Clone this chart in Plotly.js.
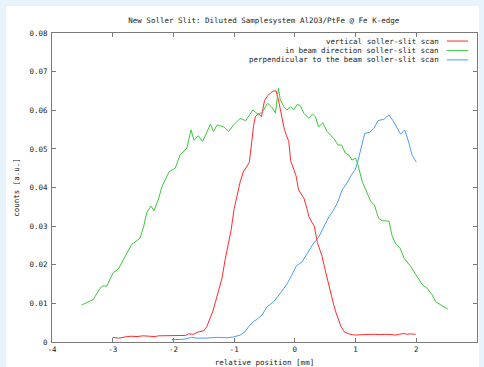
<!DOCTYPE html>
<html>
<head>
<meta charset="utf-8">
<script src="https://cdn.plot.ly/plotly-3.0.1.min.js"></script>
<style>
html,body{margin:0;padding:0;background:#e7f4fc;width:484px;height:367px;overflow:hidden;}
#chart{position:absolute;left:6px;top:6px;width:473px;height:380px;}
</style>
</head>
<body>
<div id="chart"></div>
<script>
const seriesNames = ["vertical soller-slit scan", "in beam direction soller-slit scan", "perpendicular to the beam soller-slit scan"];
const seriesColors = ["#ff2a2a", "#3cc83c", "#4a9cff"];

const redX = [-3.00,-2.90,-2.80,-2.70,-2.60,-2.50,-2.40,-2.30,-2.25,-2.10,-2.00,-1.90,-1.80,-1.75,-1.67,-1.59,-1.50,-1.45,-1.40,-1.35,-1.30,-1.25,-1.20,-1.15,-1.10,-1.05,-1.00,-0.95,-0.90,-0.85,-0.80,-0.75,-0.71,-0.68,-0.65,-0.60,-0.55,-0.50,-0.45,-0.40,-0.35,-0.31,-0.27,-0.22,-0.18,-0.14,-0.10,-0.07,-0.02,0.02,0.06,0.10,0.15,0.20,0.23,0.28,0.32,0.37,0.41,0.45,0.50,0.53,0.56,0.60,0.64,0.68,0.72,0.76,0.81,0.85,0.89,0.95,1.00,1.10,1.20,1.30,1.40,1.50,1.60,1.66,1.72,1.80,1.85,1.90,1.99];
const redY = [0.0012,0.0010,0.0013,0.0015,0.0014,0.0016,0.0015,0.0014,0.0016,0.0016,0.0016,0.0017,0.0017,0.0021,0.0020,0.0026,0.0029,0.0040,0.0058,0.0080,0.0108,0.0140,0.0165,0.0212,0.0250,0.0290,0.0345,0.0380,0.0415,0.0440,0.0452,0.0465,0.0519,0.0560,0.0583,0.0592,0.0583,0.0625,0.0637,0.0645,0.0650,0.0650,0.0627,0.0585,0.0555,0.0535,0.0519,0.0470,0.0445,0.0430,0.0394,0.0385,0.0372,0.0345,0.0325,0.0310,0.0300,0.0258,0.0240,0.0221,0.0186,0.0165,0.0143,0.0120,0.0096,0.0075,0.0057,0.0040,0.0027,0.0023,0.0021,0.0019,0.0018,0.0019,0.0020,0.0020,0.0019,0.0020,0.0019,0.0018,0.0020,0.0022,0.0020,0.0021,0.0020];

const greenX = [-3.51,-3.32,-3.21,-3.16,-3.10,-2.99,-2.91,-2.80,-2.69,-2.55,-2.49,-2.44,-2.37,-2.32,-2.25,-2.19,-2.07,-1.97,-1.89,-1.78,-1.71,-1.66,-1.59,-1.52,-1.39,-1.34,-1.28,-1.17,-1.09,-1.01,-0.90,-0.81,-0.69,-0.60,-0.52,-0.45,-0.38,-0.32,-0.27,-0.24,-0.18,-0.13,-0.07,-0.02,0.04,0.09,0.15,0.23,0.29,0.34,0.39,0.46,0.53,0.64,0.71,0.77,0.83,0.89,0.94,1.00,1.04,1.11,1.19,1.25,1.31,1.38,1.44,1.55,1.60,1.66,1.73,1.80,1.91,2.02,2.10,2.18,2.26,2.32,2.40,2.49,2.52];
const greenY = [0.0096,0.0110,0.0139,0.0146,0.0144,0.0180,0.0188,0.0221,0.0252,0.0269,0.0299,0.0335,0.0352,0.0340,0.0368,0.0402,0.0441,0.0450,0.0484,0.0502,0.0549,0.0522,0.0534,0.0519,0.0564,0.0545,0.0562,0.0557,0.0545,0.0562,0.0579,0.0573,0.0601,0.0588,0.0599,0.0618,0.0608,0.0593,0.0657,0.0627,0.0609,0.0601,0.0609,0.0601,0.0615,0.0612,0.0592,0.0579,0.0590,0.0583,0.0557,0.0568,0.0545,0.0527,0.0510,0.0510,0.0489,0.0484,0.0471,0.0476,0.0458,0.0415,0.0387,0.0364,0.0355,0.0320,0.0314,0.0313,0.0276,0.0254,0.0244,0.0217,0.0195,0.0169,0.0148,0.0139,0.0122,0.0104,0.0096,0.0087,0.0085];

const blueX = [-2.03,-1.90,-1.83,-1.70,-1.61,-1.45,-1.28,-1.12,-1.01,-0.90,-0.83,-0.76,-0.68,-0.62,-0.54,-0.46,-0.35,-0.24,-0.13,-0.05,0.02,0.12,0.23,0.31,0.39,0.48,0.56,0.63,0.70,0.78,0.86,0.93,0.99,1.03,1.08,1.15,1.23,1.30,1.37,1.47,1.55,1.63,1.74,1.81,1.88,1.93,2.00];
const blueY = [0.0006,0.0006,0.0007,0.0012,0.0010,0.0010,0.0012,0.0011,0.0013,0.0018,0.0025,0.0040,0.0053,0.0059,0.0070,0.0091,0.0104,0.0126,0.0150,0.0173,0.0196,0.0208,0.0234,0.0256,0.0271,0.0299,0.0324,0.0340,0.0360,0.0394,0.0412,0.0432,0.0445,0.0463,0.0497,0.0540,0.0543,0.0553,0.0573,0.0577,0.0588,0.0570,0.0538,0.0549,0.0515,0.0484,0.0466];

const xTicks = [-4,-3,-2,-1,0,1,2,3];
const yTicks = [0,0.01,0.02,0.03,0.04,0.05,0.06,0.07,0.08];

const xs = [redX, greenX, blueX];
const ys = [redY, greenY, blueY];
const traces = xs.map((x, i) => ({
  x: x, y: ys[i], type: 'scatter', mode: 'lines', name: seriesNames[i],
  line: {color: seriesColors[i], width: 1}, showlegend: false, hoverinfo: 'skip'
}));

const font = {family: "DejaVu Sans Mono, monospace", size: 7.5, color: "#222"};

const annotations = [];
const shapes = [];
const legY = [0.974, 0.943, 0.913];
seriesNames.forEach((n, i) => {
  annotations.push({xref: 'paper', yref: 'paper', x: 0.915, y: legY[i], text: n, showarrow: false,
    xanchor: 'right', yanchor: 'middle', font: font});
  shapes.push({type: 'line', xref: 'paper', yref: 'paper', x0: 0.929, x1: 0.979, y0: legY[i], y1: legY[i],
    line: {color: seriesColors[i], width: 1}});
});

const axisCommon = {
  showgrid: false, zeroline: false, showline: true, linecolor: '#7a7a7a', linewidth: 1,
  mirror: 'allticks', ticks: 'inside', ticklen: 4, tickcolor: '#7a7a7a', tickwidth: 1,
  tickfont: font, automargin: false
};

const layout = {
  width: 473, height: 380,
  margin: {l: 46, r: 2, t: 27, b: 44},
  paper_bgcolor: '#ffffff', plot_bgcolor: '#ffffff',
  font: font,
  title: {text: 'New Soller Slit: Diluted Samplesystem Al2O3/PtFe @ Fe K-edge', font: font,
    x: 0.545, xanchor: 'center', y: 0.963, yanchor: 'middle'},
  xaxis: Object.assign({}, axisCommon, {range: [-4, 3], tickvals: xTicks, ticktext: xTicks.map(String),
    title: {text: 'relative position [mm]', font: font, standoff: 6}}),
  yaxis: Object.assign({}, axisCommon, {range: [0, 0.08], tickvals: yTicks,
    ticktext: yTicks.map(v => v === 0 ? '0' : v.toFixed(2)), ticklabelstandoff: 2,
    title: {text: 'counts [a.u.]', font: font, standoff: 8}}),
  annotations: annotations,
  shapes: shapes,
  showlegend: false
};

Plotly.newPlot('chart', traces, layout, {staticPlot: true, displayModeBar: false});
</script>
</body>
</html>
